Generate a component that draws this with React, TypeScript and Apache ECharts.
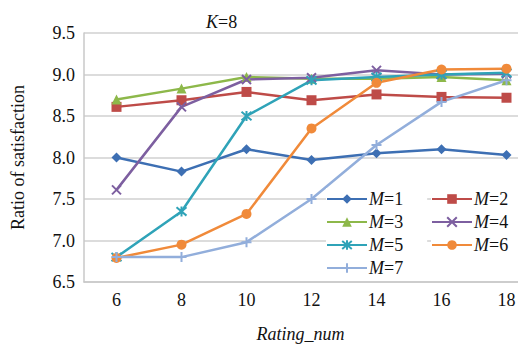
import React, { useEffect, useRef } from "react";
import * as echarts from "echarts";

const categories = ["6", "8", "10", "12", "14", "16", "18"];
const yTicks = [6.5, 7.0, 7.5, 8.0, 8.5, 9.0, 9.5];
const seriesNames = ["M=1", "M=2", "M=3", "M=4", "M=5", "M=6", "M=7"];
const m1 = [8.0, 7.83, 8.1, 7.97, 8.05, 8.1, 8.03];
const m2 = [8.61, 8.69, 8.79, 8.69, 8.76, 8.73, 8.72];
const m3 = [8.7, 8.83, 8.97, 8.95, 8.95, 8.97, 8.93];
const m4 = [7.61, 8.61, 8.94, 8.96, 9.05, 9.0, 9.01];
const m5 = [6.8, 7.35, 8.5, 8.93, 8.97, 9.0, 9.02];
const m6 = [6.79, 6.95, 7.32, 8.35, 8.9, 9.06, 9.07];
const m7 = [6.8, 6.8, 6.98, 7.5, 8.15, 8.67, 8.93];
const seriesValues = [m1, m2, m3, m4, m5, m6, m7];

const colors = ["#3D6FB3", "#BE4B48", "#8DB84A", "#7D5FA0", "#2FA3B8", "#F08A3A", "#92AEDB"];
const symbols = [
  "diamond",
  "rect",
  "triangle",
  "path://M0,0L10,10M10,0L0,10",
  "path://M0,0L10,10M10,0L0,10M5,-1L5,11",
  "circle",
  "path://M5,0L5,10M0,5L10,5",
];
const symbolSizes = [10, 10, 10, 9, 10, 10, 10];

const FONT = "Liberation Serif";

export default function App() {
  const ref = useRef<HTMLDivElement>(null);
  useEffect(() => {
    if (!ref.current) return;
    const chart = echarts.init(ref.current, null, { renderer: "svg" });
    const rich = {
      i: { fontFamily: FONT, fontSize: 18, fontStyle: "italic", fontWeight: "normal", color: "#111" },
      n: { fontFamily: FONT, fontSize: 18, fontWeight: "normal", color: "#111" },
    };
    const legendFormatter = (name: string) => `{i|M}{n|${name.slice(1)}}`;
    const legendCommon = {
      orient: "vertical",
      itemWidth: 40,
      itemHeight: 12,
      itemGap: 5,
      backgroundColor: "#ffffff",
      formatter: legendFormatter,
      textStyle: { fontFamily: FONT, fontSize: 18, lineHeight: 18, rich, padding: [0, 0, 0, -3] },
      z: 10,
    };
    chart.setOption({
      animation: false,
      backgroundColor: "#ffffff",
      textStyle: { fontFamily: FONT },
      title: {
        text: "{i|K}{n|=8}",
        left: 201,
        top: 8,
        textStyle: { fontFamily: FONT, fontWeight: "normal", fontSize: 18, rich },
      },
      legend: [
        {
          ...legendCommon,
          data: ["M=1", "M=3", "M=5", "M=7"],
          left: 326,
          top: 188,
          padding: [2, 24, 4, 0],
        },
        {
          ...legendCommon,
          data: ["M=2", "M=4", "M=6"],
          left: 431,
          top: 188,
          padding: [2, 10, 4, 0],
        },
      ],
      grid: {
        left: 84,
        top: 33,
        right: -21,
        bottom: 67,
        outerBoundsMode: "none",
        containLabel: false,
      },
      xAxis: {
        type: "category",
        data: categories,
        boundaryGap: true,
        name: "Rating_num",
        nameLocation: "middle",
        nameGap: 43,
        nameTextStyle: {
          fontFamily: FONT,
          fontSize: 18,
          fontStyle: "italic",
          color: "#111",
          padding: [0, 22, 0, 0],
        },
        axisLine: { show: true, lineStyle: { color: "#C8C8C8", width: 1.5 } },
        axisTick: { show: false },
        axisLabel: { fontFamily: FONT, fontSize: 18, color: "#111", margin: 9 },
        splitLine: { show: false },
      },
      yAxis: {
        type: "value",
        min: yTicks[0],
        max: yTicks[yTicks.length - 1],
        interval: 0.5,
        name: "Ratio of satisfaction",
        nameLocation: "middle",
        nameGap: 57,
        nameTextStyle: { fontFamily: FONT, fontSize: 18, color: "#111" },
        axisLine: { show: true, lineStyle: { color: "#C8C8C8", width: 1.5 } },
        axisTick: { show: false },
        axisLabel: {
          fontFamily: FONT,
          fontSize: 18,
          color: "#111",
          margin: 9,
          formatter: (v: number) => v.toFixed(1),
        },
        splitLine: { show: true, lineStyle: { color: "#D0D0D0", width: 1.5 } },
      },
      series: seriesNames.map((name, idx) => ({
        name,
        type: "line",
        data: seriesValues[idx],
        symbol: symbols[idx],
        symbolSize: symbolSizes[idx],
        showSymbol: true,
        lineStyle: { color: colors[idx], width: 2.5 },
        itemStyle: {
          color: colors[idx],
          borderColor: colors[idx],
          borderWidth: symbols[idx].startsWith("path") ? 2 : 0,
        },
        z: 2,
      })),
    });
    return () => chart.dispose();
  }, []);
  return (
    <div style={{ position: "fixed", left: 0, top: 0, width: 518, height: 349, background: "#fff" }}>
      <style>{`svg text { font-family: "Liberation Serif", "DejaVu Serif", serif !important; }`}</style>
      <div ref={ref} style={{ width: 518, height: 349 }} />
    </div>
  );
}
